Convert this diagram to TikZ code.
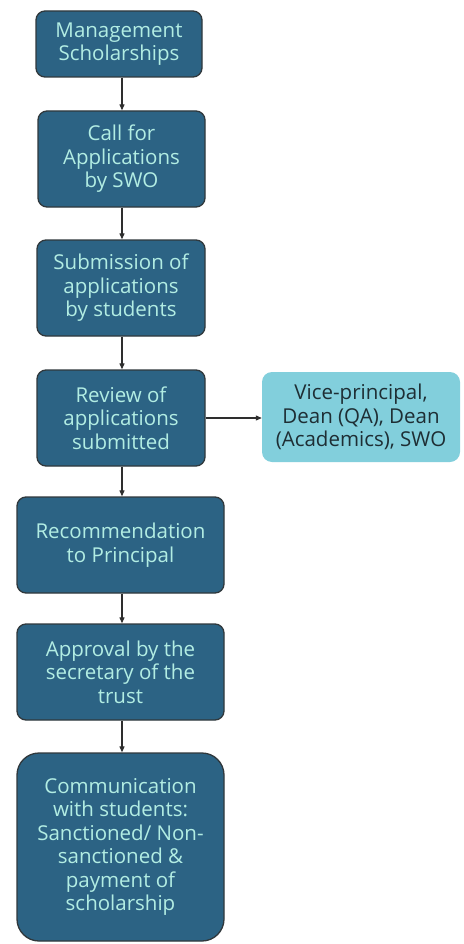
\documentclass[tikz,border=0pt]{standalone}
\usepackage{fontspec}
\setmainfont{Open Sans}
\usetikzlibrary{arrows.meta}
\definecolor{boxfill}{HTML}{2C6384}
\definecolor{boxtext}{HTML}{B2EDE3}
\definecolor{boxline}{HTML}{30383C}
\definecolor{sidefill}{HTML}{82CFDC}
\definecolor{sidetext}{HTML}{1E2E34}
\definecolor{arrowcol}{HTML}{2E2E2E}
\tikzset{
  stepbox/.style={draw=boxline, line width=1.3pt, fill=boxfill, rounded corners=9pt,
    text=boxtext, align=center, inner sep=0pt,
    font=\fontsize{20.5}{23.5}\selectfont},
  sidebox/.style={fill=sidefill, rounded corners=10pt, text=sidetext, align=center,
    inner sep=0pt, font=\fontsize{20.5}{23.5}\selectfont},
  flow/.style={draw=arrowcol, line width=1.1pt, -{Triangle[length=6pt,width=5pt]}}
}
\begin{document}
\begin{tikzpicture}[x=1pt,y=-1pt]
\useasboundingbox[fill=white] (0,0) rectangle (463,944);
\node[stepbox, minimum width=166pt, minimum height=66pt] (b1) at (119,44) {Management\\Scholarships};
\node[stepbox, minimum width=167pt, minimum height=96pt] (b2) at (121.5,159) {Call for\\Applications\\by SWO};
\node[stepbox, minimum width=168pt, minimum height=96pt] (b3) at (121,288) {Submission of\\applications\\by students};
\node[stepbox, minimum width=168pt, minimum height=96pt] (b4) at (121,418) {Review of\\applications\\submitted};
\node[sidebox, minimum width=198pt, minimum height=90pt] (s) at (361,417) {Vice-principal,\\Dean (QA), Dean\\(Academics), SWO};
\node[stepbox, minimum width=207pt, minimum height=96pt] (b5) at (120.5,545) {Recommendation\\to Principal};
\node[stepbox, minimum width=207pt, minimum height=96pt] (b6) at (120.5,672) {Approval by the\\secretary of the\\trust};
\node[stepbox, minimum width=207pt, minimum height=188pt, rounded corners=22pt] (b7) at (120.5,847) {Communication\\with students:\\Sanctioned/ Non-\\sanctioned \&\\payment of\\scholarship};
\draw[flow] (b1.south -| 122,0) -- (b2.north -| 122,0);
\draw[flow] (b2.south -| 122,0) -- (b3.north -| 122,0);
\draw[flow] (b3.south -| 122,0) -- (b4.north -| 122,0);
\draw[flow] (b4.south -| 122,0) -- (b5.north -| 122,0);
\draw[flow] (b5.south -| 122,0) -- (b6.north -| 122,0);
\draw[flow] (b6.south -| 122,0) -- (b7.north -| 122,0);
\draw[flow] (b4.east) -- (b4.east -| s.west);
\end{tikzpicture}
\end{document}
